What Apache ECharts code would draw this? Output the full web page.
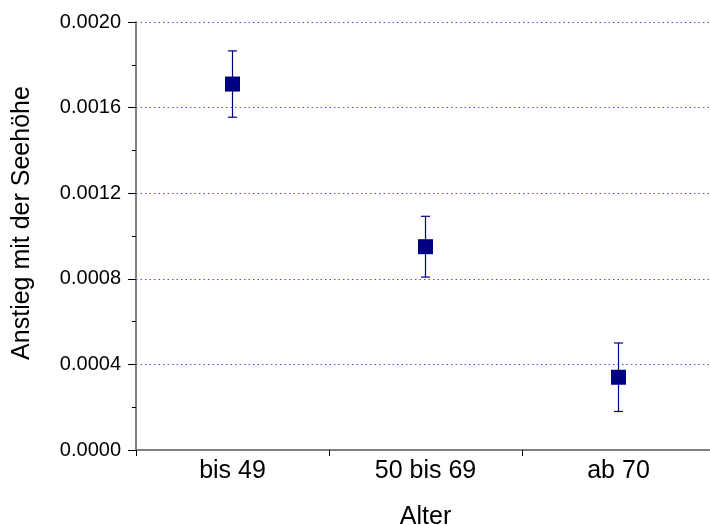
<!DOCTYPE html>
<html>
<head>
<meta charset="utf-8">
<script src="https://cdn.jsdelivr.net/npm/echarts@6/dist/echarts.min.js"></script>
<style>
  html, body { margin: 0; padding: 0; background: #fff; }
  #chart { width: 710px; height: 525px; }
</style>
</head>
<body>
<div id="chart"></div>
<script>
// Age groups and the fitted slope (rise with altitude) with its error
const categories = ['bis 49', '50 bis 69', 'ab 70'];
const slopes = [0.00171, 0.00095, 0.00034];
const errors = [0.000155, 0.000142, 0.00016];
const yTicks = [0, 0.0004, 0.0008, 0.0012, 0.0016, 0.0020];

const FONT = '"Liberation Sans", Arial, sans-serif';
const NAVY = '#000080';

const chart = echarts.init(document.getElementById('chart'), null, { renderer: 'canvas' });

const errorData = categories.map((c, i) => [i, slopes[i] - errors[i], slopes[i] + errors[i]]);

chart.setOption({
  animation: false,
  backgroundColor: '#ffffff',
  grid: {
    left: 136, top: 22, width: 579, height: 428,
    containLabel: false,
    outerBoundsMode: 'none'
  },
  xAxis: {
    type: 'category',
    data: categories,
    boundaryGap: true,
    name: 'Alter',
    nameLocation: 'middle',
    nameGap: 55,
    nameTextStyle: { fontFamily: FONT, fontSize: 25, color: '#000' },
    axisLine: { lineStyle: { color: '#808080', width: 2 } },
    axisTick: { show: true, length: 6, lineStyle: { color: '#000', width: 1 } },
    axisLabel: { fontFamily: FONT, fontSize: 25, color: '#000', margin: 9 },
    splitLine: { show: false }
  },
  yAxis: {
    type: 'value',
    min: yTicks[0],
    max: yTicks[yTicks.length - 1],
    interval: yTicks[1] - yTicks[0],
    axisLine: { show: true, lineStyle: { color: '#808080', width: 2 } },
    axisTick: { show: true, length: 8, lineStyle: { color: '#000', width: 1 } },
    minorTick: { show: true, splitNumber: 2, length: 4, lineStyle: { color: '#000', width: 1 } },
    axisLabel: {
      fontFamily: FONT, fontSize: 20, color: '#000', margin: 15,
      formatter: v => v.toFixed(4)
    },
    splitLine: {
      show: true,
      lineStyle: { color: '#4a4aff', width: 1, type: [1.5, 3] }
    }
  },
  graphic: [{
    type: 'text',
    x: 22,
    y: 223,
    rotation: Math.PI / 2,
    style: {
      text: 'Anstieg mit der Seehöhe',
      fontFamily: FONT,
      fontSize: 25,
      fill: '#000',
      align: 'center',
      verticalAlign: 'middle'
    }
  }],
  series: [
    {
      type: 'custom',
      data: errorData,
      z: 3,
      renderItem: (params, api) => {
        const x = api.value(0);
        const lo = api.coord([x, api.value(1)]);
        const hi = api.coord([x, api.value(2)]);
        const half = 4.5;
        const style = { stroke: NAVY, lineWidth: 1.2 };
        return {
          type: 'group',
          children: [
            { type: 'line', shape: { x1: lo[0], y1: lo[1], x2: hi[0], y2: hi[1] }, style },
            { type: 'line', shape: { x1: lo[0] - half, y1: lo[1], x2: lo[0] + half, y2: lo[1] }, style },
            { type: 'line', shape: { x1: hi[0] - half, y1: hi[1], x2: hi[0] + half, y2: hi[1] }, style }
          ]
        };
      }
    },
    {
      type: 'scatter',
      data: slopes,
      symbol: 'rect',
      symbolSize: 15,
      z: 4,
      itemStyle: { color: NAVY, opacity: 1 }
    }
  ]
});
</script>
</body>
</html>
